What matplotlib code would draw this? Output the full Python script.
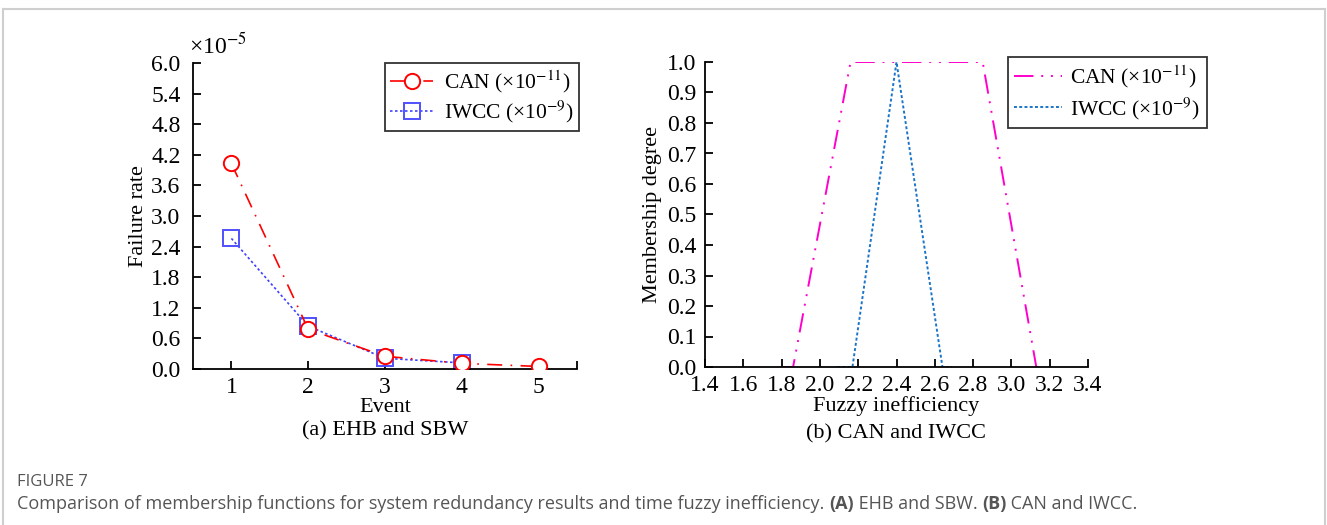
import matplotlib.pyplot as plt
from matplotlib.lines import Line2D

plt.rcParams['font.family'] = 'Liberation Serif'
plt.rcParams['mathtext.fontset'] = 'stix'

# ---- data ----
events = [1, 2, 3, 4, 5]
can_rate = [4.03, 0.78, 0.25, 0.11, 0.05]
iwcc_events = [1, 2, 3, 4]
iwcc_rate = [2.56, 0.84, 0.21, 0.12]

can_x = [1.80, 1.86, 2.16, 2.85, 3.13, 3.18]
can_mu = [0.0, 0.0, 1.0, 1.0, 0.0, 0.0]
iwcc_x = [2.09, 2.17, 2.40, 2.64, 2.69]
iwcc_mu = [0.0, 0.0, 1.0, 0.0, 0.0]

left_yticks = [0.0, 0.6, 1.2, 1.8, 2.4, 3.0, 3.6, 4.2, 4.8, 5.4, 6.0]
right_xticks = [1.4, 1.6, 1.8, 2.0, 2.2, 2.4, 2.6, 2.8, 3.0, 3.2, 3.4]
right_yticks = [0.0, 0.1, 0.2, 0.3, 0.4, 0.5, 0.6, 0.7, 0.8, 0.9, 1.0]

W, H = 1327, 525
fig = plt.figure(figsize=(W / 100, H / 100), dpi=100)

def px(x0, y0, x1, y1):
    return [x0 / W, 1 - y1 / H, (x1 - x0) / W, (y1 - y0) / H]

fs_tick = 17
fs_lab = 16
fs_leg = 15.5

def style(ax, ypad):
    for s in ['top', 'right']:
        ax.spines[s].set_visible(False)
    for s in ['left', 'bottom']:
        ax.spines[s].set_linewidth(1.3)
    ax.tick_params(direction='in', length=6, width=1.3, labelsize=fs_tick)
    ax.tick_params(axis='y', pad=ypad)
    ax.tick_params(axis='x', pad=6)

# ------------------ (a) failure rate ------------------
ax1 = fig.add_axes(px(193, 63, 577, 369))
ax1.plot(events, can_rate, color='red', linestyle=(0, (9, 5, 1, 5)), linewidth=1.2,
         marker='o', markersize=11, markerfacecolor='white', markeredgecolor='red',
         markeredgewidth=1.4, label='CAN (×10$^{-11}$)', zorder=3)
ax1.plot(iwcc_events, iwcc_rate, color='#4040ff', linestyle=(0, (1.5, 1.5)), linewidth=1.2,
         marker='s', markersize=11, markerfacecolor='none', markeredgecolor='#5050ff',
         markeredgewidth=1.4, label='IWCC (×10$^{-9}$)', zorder=2)
ax1.set_xlim(0.5, 5.5)
ax1.set_ylim(0, 6.0)
ax1.set_xticks(events)
ax1.set_xticks([5.5], minor=True)
ax1.tick_params(which='minor', direction='in', length=6, width=1.3)
ax1.set_yticks(left_yticks)
ax1.set_yticklabels([f'{v:.1f}' for v in left_yticks])
style(ax1, 9)
ax1.set_xlabel('Event', fontsize=fs_lab, labelpad=0)
ax1.set_ylabel('Failure rate', fontsize=fs_lab, labelpad=2)
ax1.text(-0.01, 1.015, '×10$^{-5}$', transform=ax1.transAxes, fontsize=fs_tick, va='bottom', ha='left')
leg1 = ax1.legend(loc='upper right', bbox_to_anchor=(1.005, 1.0), fontsize=fs_leg, frameon=True,
                  fancybox=False, edgecolor='black', handlelength=2.0, borderpad=0.25,
                  labelspacing=0.2, handletextpad=0.5, borderaxespad=0.0)
leg1.get_frame().set_linewidth(1.3)
fig.text((193 + 577) / 2 / W, 1 - 431 / H, '(a) EHB and SBW', fontsize=fs_lab, ha='center', va='center')

# ------------------ (b) membership functions ------------------
ax2 = fig.add_axes(px(705, 62, 1088, 367))
ax2.plot(can_x, can_mu, color='#ff00cc', linestyle=(0, (10, 4, 1, 4, 1, 4)), linewidth=1.4,
         label='CAN (×10$^{-11}$)')
ax2.plot(iwcc_x, iwcc_mu, color='#1a75c8', linestyle=(0, (1.5, 1.2)), linewidth=1.4,
         label='IWCC (×10$^{-9}$)')
ax2.set_xlim(1.4, 3.4)
ax2.set_ylim(0, 1.0)
ax2.set_xticks(right_xticks)
ax2.set_xticklabels([f'{v:.1f}' for v in right_xticks])
ax2.set_yticks(right_yticks)
ax2.set_yticklabels([f'{v:.1f}' for v in right_yticks])
style(ax2, 6)
ax2.set_xlabel('Fuzzy inefficiency', fontsize=fs_lab, labelpad=0)
ax2.set_ylabel('Membership degree', fontsize=fs_lab, labelpad=4)
leg2 = ax2.legend(loc='upper left', bbox_to_anchor=(1008 / W, 1 - 57 / H),
                  bbox_transform=fig.transFigure, fontsize=fs_leg, frameon=True, fancybox=False,
                  edgecolor='black', handlelength=2.2, borderpad=0.3, labelspacing=0.25,
                  handletextpad=0.4, borderaxespad=0)
leg2.get_frame().set_linewidth(1.3)
fig.text((705 + 1088) / 2 / W, 1 - 434 / H, '(b) CAN and IWCC', fontsize=fs_lab, ha='center', va='center')

# ------------------ frame and caption ------------------
border = '#cfcfcf'
fig.add_artist(Line2D([3 / W, 3 / W], [0, 1 - 9 / H], color=border, linewidth=1.5))
fig.add_artist(Line2D([3 / W, 1325 / W], [1 - 9 / H, 1 - 9 / H], color=border, linewidth=1.5))
fig.add_artist(Line2D([1325 / W, 1325 / W], [0, 1 - 9 / H], color=border, linewidth=1.5))

cap_color = '#555555'
fig.text(17 / W, 1 - 482 / H, 'FIGURE 7', fontsize=12, color=cap_color, va='center',
         family='Open Sans')

parts = [('Comparison of membership functions for system redundancy results and time fuzzy inefficiency. ', 'normal'),
         ('(A)', 'bold'), (' EHB and SBW. ', 'normal'), ('(B)', 'bold'), (' CAN and IWCC.', 'normal')]
renderer = fig.canvas.get_renderer()
xpos = 17
for txt, wt in parts:
    t = fig.text(xpos / W, 1 - 504 / H, txt, fontsize=13, color=cap_color, va='center',
                 family='Open Sans', fontweight=wt)
    bb = t.get_window_extent(renderer=renderer)
    xpos += bb.width

fig.savefig('out.png', dpi=100)
